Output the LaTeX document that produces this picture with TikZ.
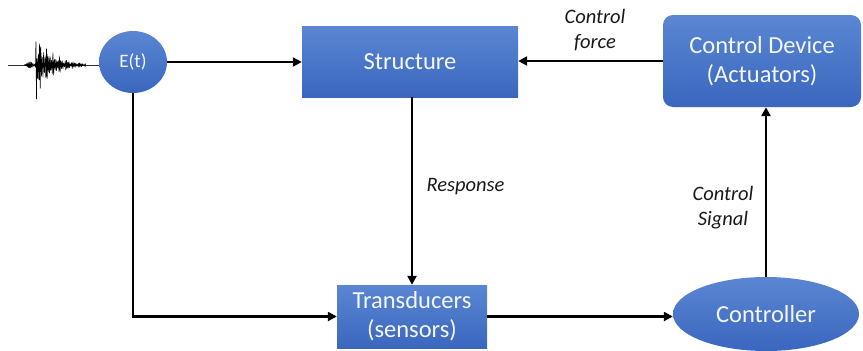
\documentclass[tikz,border=0pt]{standalone}
\usepackage{fontspec}
\setmainfont{Carlito}
\usetikzlibrary{arrows.meta,shapes.geometric}
\definecolor{bluetop}{HTML}{5A86D3}
\definecolor{bluebot}{HTML}{3A67BE}
\definecolor{txtwhite}{HTML}{F4F6FA}
\begin{document}
\begin{tikzpicture}[x=1pt,y=-1pt,
  blk/.style={rectangle, draw=none, top color=bluetop, bottom color=bluebot,
    text=txtwhite, align=center, inner sep=0pt,
    font=\fontsize{24.5}{29}\selectfont},
  oval/.style={ellipse, draw=none, top color=bluetop, bottom color=bluebot,
    text=txtwhite, align=center, inner sep=0pt},
  conn/.style={line width=2.8pt, -{Triangle[length=9pt,width=9pt]}},
  lbl/.style={font=\itshape\fontsize{20.5}{25}\selectfont, align=center, text=black!90}]
\useasboundingbox (0,0) rectangle (863,351);

% seismic record
\coordinate (sig) at (8,65);
\node[oval, minimum width=68pt, minimum height=62pt, font=\fontsize{19}{21}\selectfont] (et) at (133,62) {E(t)};
\draw[line width=0.6pt, black!80] (sig) -- (et.west |- sig);
\draw[line width=0.55pt, black] plot[domain=24:86, samples=800]
  (\x, {65 + ( 2.8*exp(max(-8,-((\x-30)^2)/15))
             + 38*exp(max(-8,-((\x-36.3)^2)/0.35))
             + (\x>37.5)*24*exp(max(-8,-(\x-40)/17))*(0.6+0.4*sin(\x*83)*sin(\x*29)) )
        *sin(mod(\x,40)*270 + 50*sin(\x*37))});

% blocks
\node[blk, minimum width=216pt, minimum height=71pt] (st) at (410,61.5) {Structure};
\node[blk, rounded corners=10pt, minimum width=198pt, minimum height=92pt] (cd) at (762,61) {Control Device\\(Actuators)};
\node[blk, minimum width=150pt, minimum height=63pt] (tr) at (412,316.5) {Transducers\\(sensors)};
\node[oval, minimum width=186pt, minimum height=74pt, font=\fontsize{24.5}{29}\selectfont] (ct) at (766,314) {Controller};

% labels
\node[lbl] (lcf) at (595,30) {Control\\force};
\node[lbl, anchor=west] (lrs) at (423,187) {Response};
\node[lbl] (lcs) at (723,208) {Control\\Signal};

% connectors
\draw[conn] (et.east) -- (et.east -| st.west);
\draw[conn] (cd.west) -- (cd.west -| st.east);
\draw[conn] (st.south -| tr.north) -- (tr.north);
\draw[conn] (et.south) |- (tr.west);
\draw[conn] (tr.east) -- (tr.east -| ct.west);
\draw[conn] (ct.north) -- (ct.north |- cd.south);
\end{tikzpicture}
\end{document}
